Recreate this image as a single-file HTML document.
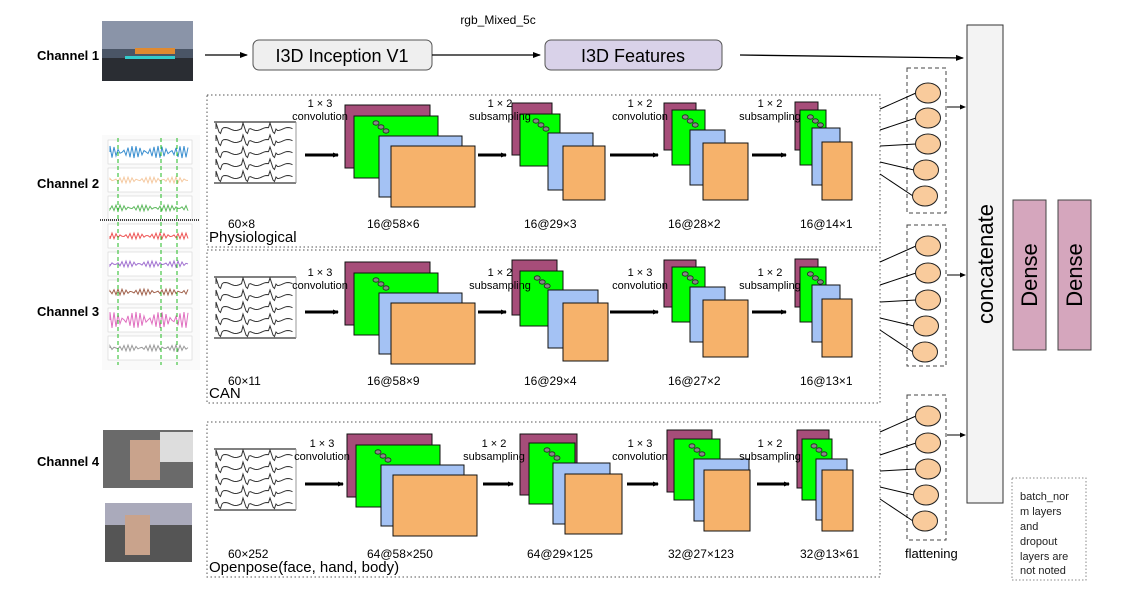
<!DOCTYPE html>
<html><head><meta charset="utf-8"><style>
body{margin:0;background:#fff;width:1124px;height:599px;overflow:hidden}
svg{display:block;font-family:"Liberation Sans",sans-serif}
</style></head><body>
<svg id="s" width="1124" height="599" viewBox="0 0 1124 599">
<defs><marker id="a" markerWidth="8" markerHeight="8" refX="7" refY="4" orient="auto" markerUnits="userSpaceOnUse"><path d="M0,1 L8,4 L0,7z" fill="#000"/></marker>
<marker id="b" markerWidth="6" markerHeight="6" refX="5" refY="3" orient="auto" markerUnits="userSpaceOnUse"><path d="M0,0.5 L6,3 L0,5.5z" fill="#000"/></marker></defs>
<g font-weight="bold" font-size="13">
<text x="37" y="60">Channel 1</text><text x="37" y="188">Channel 2</text><text x="37" y="316">Channel 3</text><text x="37" y="466">Channel 4</text></g>
<rect x="102" y="21" width="91" height="60" fill="#4a5566"/><rect x="102" y="21" width="91" height="28" fill="#8a94a8"/><rect x="102" y="58" width="91" height="23" fill="#2a2d33"/><rect x="135" y="48" width="40" height="6" fill="#e08a30"/><rect x="125" y="56" width="50" height="3" fill="#3cc"/>
<rect x="103" y="430" width="90" height="58" fill="#6a6a6a"/><rect x="130" y="440" width="30" height="40" fill="#c9a38c"/><rect x="160" y="432" width="33" height="30" fill="#ddd"/>
<rect x="105" y="503" width="87" height="59" fill="#555"/><rect x="105" y="503" width="87" height="22" fill="#aab"/><rect x="125" y="515" width="25" height="40" fill="#c9a38c"/>
<g id="chart"></g>
<line x1="205" y1="55" x2="247" y2="55" stroke="#000" stroke-width="1.3" marker-end="url(#a)"/>
<rect x="253" y="40" width="179" height="30" rx="6" fill="#efefef" stroke="#555"/>
<text x="342" y="62" font-size="18" text-anchor="middle">I3D Inception V1</text>
<text x="498" y="24" font-size="12" text-anchor="middle">rgb_Mixed_5c</text>
<line x1="432" y1="55" x2="540" y2="55" stroke="#000" stroke-width="1.3" marker-end="url(#a)"/>
<rect x="545" y="40" width="177" height="30" rx="6" fill="#d9d2e9" stroke="#555"/>
<text x="633" y="62" font-size="18" text-anchor="middle">I3D Features</text>
<line x1="740" y1="55" x2="963" y2="58" stroke="#000" stroke-width="1.3" marker-end="url(#a)"/>
<rect x="967" y="25" width="36" height="478" fill="#f3f3f3" stroke="#333"/>
<text transform="translate(993,264) rotate(-90)" font-size="22" text-anchor="middle">concatenate</text>
<rect x="1013" y="200" width="33" height="150" fill="#d5a6bd" stroke="#444"/>
<rect x="1058" y="200" width="33" height="150" fill="#d5a6bd" stroke="#444"/>
<text transform="translate(1037,275) rotate(-90)" font-size="22" text-anchor="middle">Dense</text>
<text transform="translate(1082,275) rotate(-90)" font-size="22" text-anchor="middle">Dense</text>
<rect x="1012" y="478" width="74" height="102" fill="none" stroke="#888" stroke-dasharray="1.5,2"/>
<g font-size="11" fill="#222"><text x="1020" y="500">batch_nor</text><text x="1020" y="515">m layers</text><text x="1020" y="530">and</text><text x="1020" y="545">dropout</text><text x="1020" y="560">layers are</text><text x="1020" y="574">not noted</text></g>
<text x="905" y="558" font-size="13">flattening</text>
<g id="secs"></g>
<g id="labs"></g>
</svg>
<script>
const NS="http://www.w3.org/2000/svg";
function el(p,t,a,txt){const e=document.createElementNS(NS,t);for(const k in a)e.setAttribute(k,a[k]);if(txt!=null)e.textContent=txt;p.appendChild(e);return e;}
const G=document.getElementById('secs');const LB=document.getElementById('labs');
const C=document.getElementById('chart');
el(C,'rect',{x:102,y:135,width:98,height:235,fill:'#fafafa'});
const cols=['#3a8fd0','#f5c9a0','#5cb85c','#e55','#a070d0','#a0604a','#e070c0','#999'];
for(let i=0;i<8;i++){let y=140+i*28;el(C,'rect',{x:108,y:y,width:84,height:24,fill:'#fff',stroke:'#ccc','stroke-width':0.5});
let d='M110,'+(y+12);for(let x=110;x<190;x+=2)d+=' L'+x+','+(y+12+Math.sin(x*1.7+i)*(i==0?6:i==6?8:3));el(C,'path',{d:d,stroke:cols[i],fill:'none','stroke-width':1});}
el(C,'line',{x1:100,y1:220,x2:200,y2:220,stroke:'#444','stroke-width':2,'stroke-dasharray':'1,1'});
[118,161,177].forEach(x=>el(C,'line',{x1:x,y1:138,x2:x,y2:365,stroke:'#2b2','stroke-dasharray':'4,3'}));
const secs=[
 {y0:95,h:152,ay:155,ly:228,name:'Physiological',in:'60×8',
  L:['1 × 3|convolution','1 × 2|subsampling','1 × 2|convolution','1 × 2|subsampling'],
  S:['16@58×6','16@29×3','16@28×2','16@14×1'],
  st:[[345,105,85,63, 354,116,84,62, 379,136,83,61, 391,146,84,61],
      [512,103,40,52, 520,114,40,52, 548,133,45,57, 563,146,42,54],
      [664,103,32,47, 672,110,33,55, 690,130,35,55, 703,143,45,57],
      [795,102,23,48, 800,110,26,55, 812,128,28,57, 822,142,30,58]],
  ax:[[305,340],[478,508],[610,660],[752,788]],lx:[320,500,640,770],ly2:97,sx:[228,367,524,668,800]},
 {y0:250,h:153,ay:312,ly:385,name:'CAN',in:'60×11',
  L:['1 × 3|convolution','1 × 2|subsampling','1 × 3|convolution','1 × 2|subsampling'],
  S:['16@58×9','16@29×4','16@27×2','16@13×1'],
  st:[[345,262,85,63, 354,273,84,62, 379,293,83,61, 391,303,84,61],
      [512,260,45,55, 520,271,43,55, 548,290,50,58, 563,303,45,58],
      [664,260,32,47, 672,267,33,55, 690,287,35,55, 703,300,45,57],
      [795,259,23,48, 800,267,26,55, 812,285,28,57, 822,299,30,58]],
  ax:[[305,340],[478,508],[610,660],[752,788]],lx:[320,500,640,770],ly2:266,sx:[228,367,524,668,800]},
 {y0:422,h:155,ay:484,ly:558,name:'Openpose(face, hand, body)',in:'60×252',
  L:['1 × 3|convolution','1 × 2|subsampling','1 × 3|convolution','1 × 2|subsampling'],
  S:['64@58×250','64@29×125','32@27×123','32@13×61'],
  st:[[347,434,85,63, 356,445,84,62, 381,465,83,61, 393,475,84,61],
      [520,434,57,61, 529,443,46,61, 553,463,57,61, 565,474,57,60],
      [667,430,45,62, 674,439,46,61, 694,459,55,62, 704,470,46,61],
      [797,430,32,58, 802,439,30,61, 816,459,31,61, 822,470,31,61]],
  ax:[[305,345],[483,515],[627,660],[757,791]],lx:[322,494,640,770],ly2:437,sx:[228,367,527,668,800]}
];
const fills=['#a64d79','#00ff00','#a4c2f4','#f6b26b'];
secs.forEach((s,si)=>{
 el(G,'rect',{x:207,y:s.y0,width:673,height:s.h,fill:'none',stroke:'#555','stroke-dasharray':'1.5,2.5'});
 const sy=s.y0+27;
 el(G,'line',{x1:214,y1:sy,x2:296,y2:sy,stroke:'#000'});el(G,'line',{x1:214,y1:sy+61,x2:296,y2:sy+61,stroke:'#000'});
 el(G,'line',{x1:296,y1:sy,x2:296,y2:sy+61,stroke:'#999'});
 for(let r=0;r<5;r++){let yb=sy+7+r*12;let d='M216,'+yb;for(let x=216;x<294;x+=1.5){let ph=(x-216)%27;let v=ph<4?-6+ph*3:ph<7?6-(ph-4)*3:Math.sin(x*0.3)*1.5;d+=' L'+x+','+(yb+v);}el(G,'path',{d:d,stroke:'#333',fill:'none','stroke-width':1});}
 el(G,'text',{x:s.sx[0],y:s.ly,'font-size':12},s.in);
 el(G,'text',{x:209,y:s.y0+s.h-5,'font-size':15},s.name);
 s.st.forEach((q,i)=>{for(let k=0;k<4;k++)el(G,'rect',{x:q[k*4],y:q[k*4+1],width:q[k*4+2],height:q[k*4+3],fill:fills[k],stroke:'#111','stroke-width':1});
  const gx=q[4],gy=q[5];const dx=i==0?22:Math.min(18,q[6]*0.4);
  for(let j=0;j<3;j++)el(G,'ellipse',{cx:gx+dx+j*5,cy:gy+7+j*4,rx:3,ry:2.2,fill:'#888',stroke:'#222','stroke-width':0.8});
  el(G,'text',{x:s.sx[i+1],y:s.ly,'font-size':12},s.S[i]);});
 s.ax.forEach((a,i)=>{el(G,'line',{x1:a[0],y1:s.ay,x2:a[1]-2,y2:s.ay,stroke:'#000','stroke-width':3,'marker-end':'url(#b)'});
  const p=s.L[i].split('|');const cx=s.lx[i];
  el(LB,'text',{x:cx,y:s.ly2+10,'font-size':11,'text-anchor':'middle'},p[0]);
  el(LB,'text',{x:cx,y:s.ly2+23,'font-size':11,'text-anchor':'middle'},p[1]);});
});
const groups=[[68,213,[93,118,144,170,196]],[225,366,[246,273,300,326,352]],[395,540,[416,443,469,495,521]]];
const gy2=[107,275,435];
groups.forEach((g,gi)=>{
 el(G,'rect',{x:907,y:g[0],width:39,height:g[1]-g[0],fill:'none',stroke:'#444','stroke-dasharray':'4,3'});
 const srcY=[g[2][0]+16,g[2][1]+12,g[2][2]+2,g[2][3]-8,g[2][4]-22];
 g[2].forEach((cy,j)=>{const cx=j==4?925:928-(j==3?2:0);
  el(G,'line',{x1:880,y1:srcY[j],x2:cx-12,y2:cy,stroke:'#000'});
  el(G,'ellipse',{cx:cx,cy:cy,rx:12.5,ry:10,fill:'#f9cb9c',stroke:'#222'});});
 const ay=gy2[gi];el(G,'line',{x1:947,y1:ay,x2:965,y2:ay,stroke:'#000','marker-end':'url(#b)'});
});
</script>
</body></html>
